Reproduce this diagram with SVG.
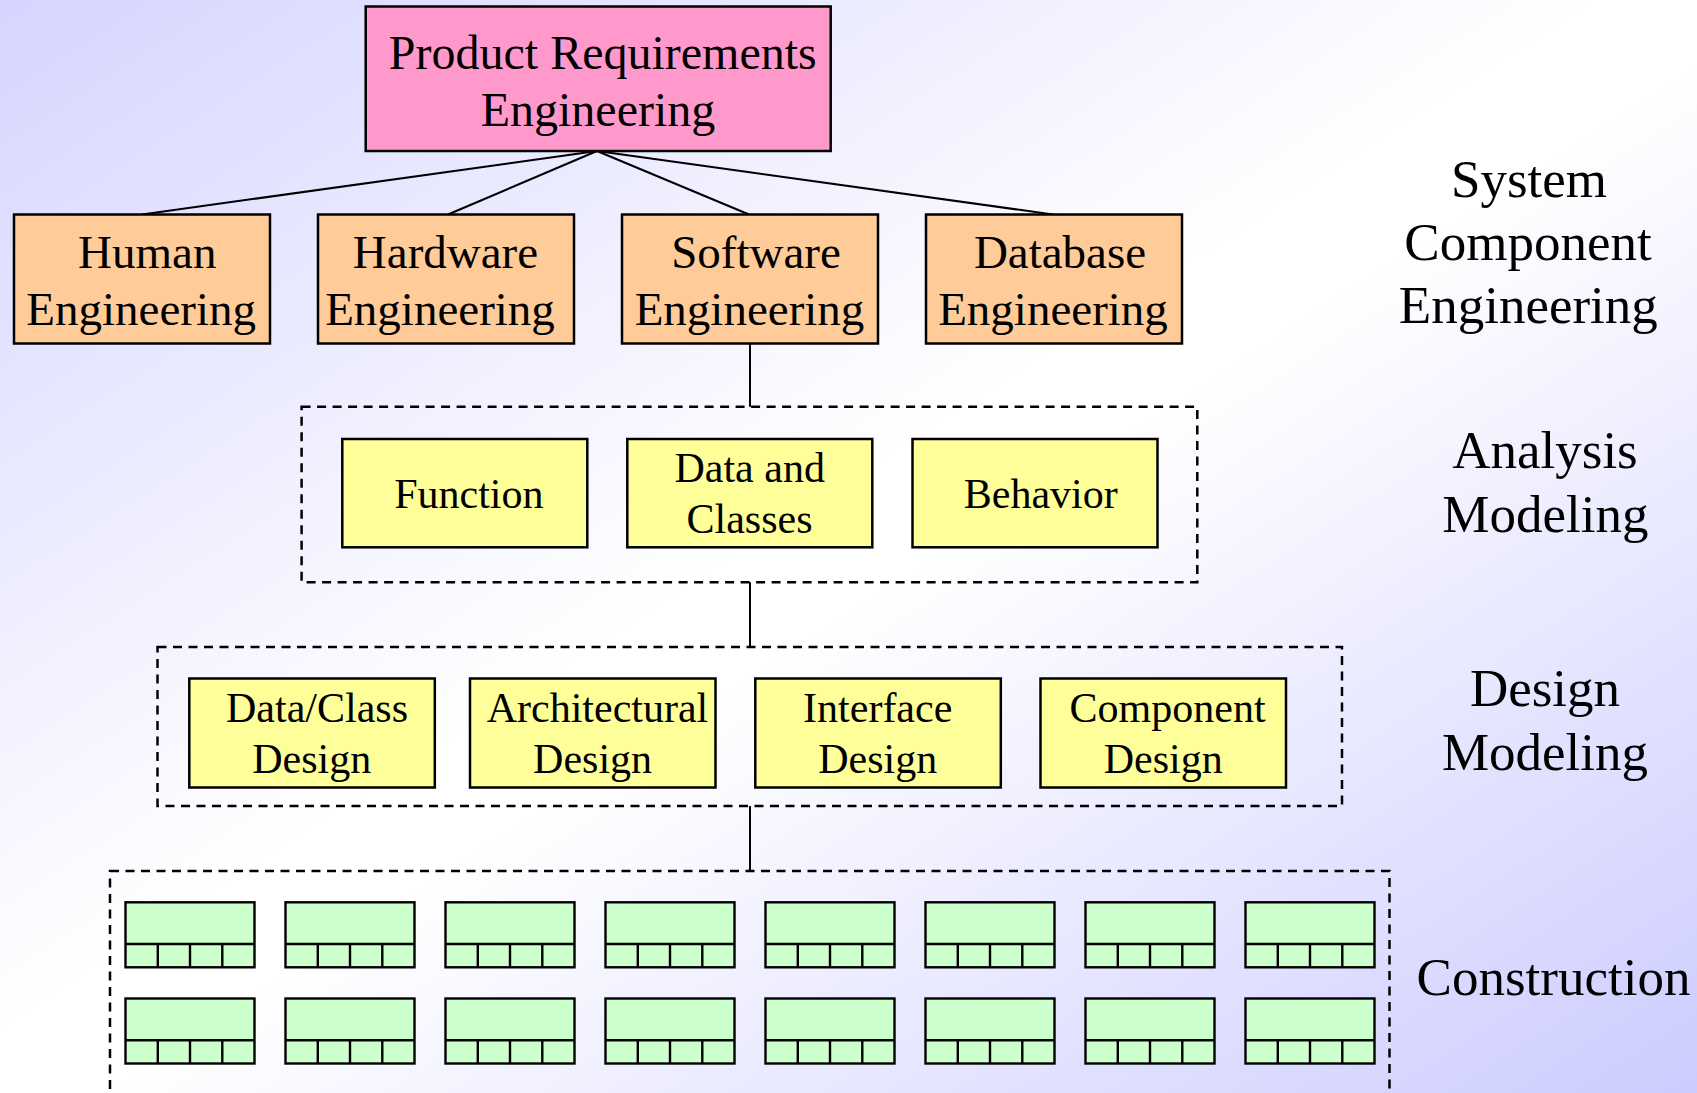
<svg xmlns="http://www.w3.org/2000/svg" xmlns:xlink="http://www.w3.org/1999/xlink" width="1697" height="1093" viewBox="0 0 1697 1093">
  <defs>
    <linearGradient id="bg" x1="0" y1="0" x2="1" y2="1">
      <stop offset="0" stop-color="#D5D5FF"/>
      <stop offset="0.47" stop-color="#FFFFFF"/>
      <stop offset="0.53" stop-color="#FFFFFF"/>
      <stop offset="1" stop-color="#CCCCFF"/>
    </linearGradient>
    <!-- one construction module: body plus four compartments -->
    <g id="module">
      <rect x="0" y="0" width="129" height="65" class="mod"/>
      <line x1="0" y1="41.7" x2="129" y2="41.7" class="modline"/>
      <line x1="32.3" y1="41.7" x2="32.3" y2="65" class="modline"/>
      <line x1="64.5" y1="41.7" x2="64.5" y2="65" class="modline"/>
      <line x1="96.8" y1="41.7" x2="96.8" y2="65" class="modline"/>
    </g>
  </defs>
  <style>
    .box { stroke: #000; stroke-width: 2.5; }
    .pink { fill: #FF99CC; }
    .orange { fill: #FFCC99; }
    .yellow { fill: #FFFF99; }
    .frame { fill: none; stroke: #000; stroke-width: 2.5; stroke-dasharray: 9 6.5; }
    .mod { fill: #CCFFCC; stroke: #000; stroke-width: 2.4; }
    .modline { stroke: #000; stroke-width: 2.4; }
    .conn line { stroke: #000; stroke-width: 2; }
    text { font-family: "Liberation Serif", "Times New Roman", serif; fill: #000; text-anchor: middle; }
    .t48 { font-size: 48px; }
    .t47 { font-size: 47px; }
    .t42 { font-size: 42px; }
    .side { font-size: 53px; }
  </style>

  <rect x="0" y="0" width="1697" height="1093" fill="url(#bg)"/>

  <!-- connectors -->
  <g id="connectors" class="conn">
    <line x1="597" y1="151" x2="142" y2="214.5"/>
    <line x1="597" y1="151" x2="448" y2="214.5"/>
    <line x1="597" y1="151" x2="749" y2="214.5"/>
    <line x1="597" y1="151" x2="1053" y2="214.5"/>
    <line x1="750" y1="343" x2="750" y2="406.7"/>
    <line x1="750" y1="582.3" x2="750" y2="647"/>
    <line x1="750" y1="806" x2="750" y2="871"/>
  </g>

  <!-- top level -->
  <g id="product-requirements">
    <rect x="365.7" y="6.5" width="465" height="144.5" class="box pink"/>
    <text class="t48" x="602.8" y="68.5">Product Requirements</text>
    <text class="t48" x="598" y="125.5">Engineering</text>
  </g>

  <!-- system component engineering -->
  <g id="human-engineering">
    <rect x="14" y="214.5" width="256" height="129" class="box orange"/>
    <text class="t47" x="147.3" y="267.7">Human</text>
    <text class="t47" x="141.2" y="325">Engineering</text>
  </g>
  <g id="hardware-engineering">
    <rect x="318" y="214.5" width="256" height="129" class="box orange"/>
    <text class="t47" x="445.5" y="267.7">Hardware</text>
    <text class="t47" x="440" y="325">Engineering</text>
  </g>
  <g id="software-engineering">
    <rect x="622" y="214.5" width="256" height="129" class="box orange"/>
    <text class="t47" x="756" y="267.7">Software</text>
    <text class="t47" x="749.5" y="325">Engineering</text>
  </g>
  <g id="database-engineering">
    <rect x="926" y="214.5" width="256" height="129" class="box orange"/>
    <text class="t47" x="1060" y="267.7">Database</text>
    <text class="t47" x="1053" y="325">Engineering</text>
  </g>

  <!-- analysis modeling -->
  <g id="analysis-group">
    <rect x="301.6" y="406.7" width="895.7" height="175.6" class="frame"/>
  </g>
  <g id="function">
    <rect x="342.3" y="439" width="245" height="108.3" class="box yellow"/>
    <text class="t42" x="468.8" y="508.3">Function</text>
  </g>
  <g id="data-and-classes">
    <rect x="627.3" y="439" width="245" height="108.3" class="box yellow"/>
    <text class="t42" x="749.7" y="481.7">Data and</text>
    <text class="t42" x="749.5" y="533.3">Classes</text>
  </g>
  <g id="behavior">
    <rect x="912.5" y="439" width="245" height="108.3" class="box yellow"/>
    <text class="t42" x="1040.8" y="508.3">Behavior</text>
  </g>

  <!-- design modeling -->
  <g id="design-group">
    <rect x="157.5" y="647" width="1184.5" height="159" class="frame"/>
  </g>
  <g id="data-class-design">
    <rect x="189.3" y="678.5" width="245.5" height="109" class="box yellow"/>
    <text class="t42" x="317" y="722.3">Data/Class</text>
    <text class="t42" x="311.7" y="773.3">Design</text>
  </g>
  <g id="architectural-design">
    <rect x="470" y="678.5" width="245.5" height="109" class="box yellow"/>
    <text class="t42" x="597.5" y="722">Architectural</text>
    <text class="t42" x="592.6" y="773">Design</text>
  </g>
  <g id="interface-design">
    <rect x="755.3" y="678.5" width="245.5" height="109" class="box yellow"/>
    <text class="t42" x="877.7" y="722">Interface</text>
    <text class="t42" x="877.7" y="773">Design</text>
  </g>
  <g id="component-design">
    <rect x="1040.5" y="678.5" width="245.5" height="109" class="box yellow"/>
    <text class="t42" x="1167.6" y="722">Component</text>
    <text class="t42" x="1163.2" y="773">Design</text>
  </g>

  <!-- construction -->
  <g id="construction-group">
    <rect x="110" y="871" width="1279.5" height="240" class="frame"/>
  </g>
  <g id="modules">
    <use id="m1-1" xlink:href="#module" x="125.5" y="902.3"/>
    <use id="m1-2" xlink:href="#module" x="285.5" y="902.3"/>
    <use id="m1-3" xlink:href="#module" x="445.5" y="902.3"/>
    <use id="m1-4" xlink:href="#module" x="605.5" y="902.3"/>
    <use id="m1-5" xlink:href="#module" x="765.5" y="902.3"/>
    <use id="m1-6" xlink:href="#module" x="925.5" y="902.3"/>
    <use id="m1-7" xlink:href="#module" x="1085.5" y="902.3"/>
    <use id="m1-8" xlink:href="#module" x="1245.5" y="902.3"/>
    <use id="m2-1" xlink:href="#module" x="125.5" y="998.5"/>
    <use id="m2-2" xlink:href="#module" x="285.5" y="998.5"/>
    <use id="m2-3" xlink:href="#module" x="445.5" y="998.5"/>
    <use id="m2-4" xlink:href="#module" x="605.5" y="998.5"/>
    <use id="m2-5" xlink:href="#module" x="765.5" y="998.5"/>
    <use id="m2-6" xlink:href="#module" x="925.5" y="998.5"/>
    <use id="m2-7" xlink:href="#module" x="1085.5" y="998.5"/>
    <use id="m2-8" xlink:href="#module" x="1245.5" y="998.5"/>
  </g>

  <!-- level labels -->
  <g id="labels">
    <text class="side" x="1529" y="196.7">System</text>
    <text class="side" x="1528" y="260">Component</text>
    <text class="side" x="1528.3" y="323.3">Engineering</text>
    <text class="side" x="1545" y="467.8">Analysis</text>
    <text class="side" x="1545.4" y="532.3">Modeling</text>
    <text class="side" x="1545" y="705.5">Design</text>
    <text class="side" x="1545" y="770">Modeling</text>
    <text class="side" x="1553.5" y="995">Construction</text>
  </g>
</svg>
